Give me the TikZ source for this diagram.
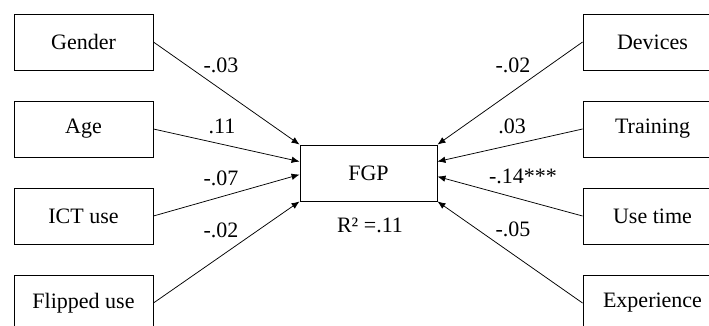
\documentclass[tikz,border=0pt]{standalone}
\usepackage{fontspec}
\setmainfont{Liberation Serif}
\usetikzlibrary{arrows.meta}
\begin{document}
\begin{tikzpicture}[x=1pt,y=-1pt,
  var/.style={draw, line width=0.9pt, minimum width=139pt, minimum height=56pt, inner sep=0pt, font=\fontsize{22}{26}\selectfont},
  lbl/.style={inner sep=0pt, font=\fontsize{22}{26}\selectfont},
  path/.style={draw, line width=0.75pt, -{Latex[length=8pt,width=6.5pt]}}]
\useasboundingbox (0,0) rectangle (709,325);
\begin{scope}
\clip (0,0) rectangle (709,325);
\node[var] (gender) at (83.5,42) {Gender};
\node[var] (age) at (83.5,129) {Age};
\node[var] (ict) at (83.5,216) {ICT use};
\node[var] (flip) at (83.5,303) {Flipped use};
\node[var] (dev) at (652.5,42) {Devices};
\node[var] (train) at (652.5,129) {Training};
\node[var] (use) at (652.5,216) {Use time};
\node[var] (exp) at (652.5,303) {Experience};
\node[var, minimum width=137pt] (fgp) at (368.5,173) {FGP};
\end{scope}
\coordinate (l1) at (fgp.north west);
\coordinate (l2) at ([yshift=-17pt]fgp.north west);
\coordinate (l3) at ([yshift=-30pt]fgp.north west);
\coordinate (l4) at (fgp.south west);
\coordinate (r1) at (fgp.north east);
\coordinate (r2) at ([yshift=-17pt]fgp.north east);
\coordinate (r3) at ([yshift=-32pt]fgp.north east);
\coordinate (r4) at (fgp.south east);
\draw[path] (gender.east) -- (l1);
\draw[path] (age.east) -- (l2);
\draw[path] (ict.east) -- (l3);
\draw[path] (flip.east) -- (l4);
\draw[path] (dev.west) -- (r1);
\draw[path] (train.west) -- (r2);
\draw[path] (use.west) -- (r3);
\draw[path] (exp.west) -- (r4);
\node[lbl] (b1) at (221,65) {-.03};
\node[lbl] (b2) at (222,126) {.11};
\node[lbl] (b3) at (221,178) {-.07};
\node[lbl] (b4) at (221,230) {-.02};
\node[lbl] (b5) at (513,65) {-.02};
\node[lbl] (b6) at (512,126) {.03};
\node[lbl] (b7) at (523,176) {-.14***};
\node[lbl] (b8) at (513,229) {-.05};
\node[lbl] (r2lbl) at (370,225) {R² =.11};
\end{tikzpicture}
\end{document}
